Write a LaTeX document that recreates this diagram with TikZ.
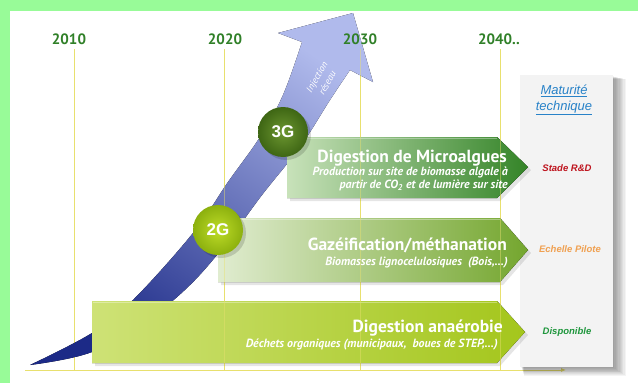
\documentclass[tikz,border=0pt]{standalone}
\usepackage{fontspec}
\setmainfont{PT Sans}
\newfontfamily\arialf{Liberation Sans}
\usetikzlibrary{arrows.meta}
\definecolor{bordergreen}{RGB}{152,251,152}
\definecolor{yeargreen}{RGB}{48,128,40}
\definecolor{tlyellow}{RGB}{232,224,110}
\definecolor{bluedark}{RGB}{28,42,135}
\definecolor{bluemid}{RGB}{125,138,215}
\definecolor{bluelight}{RGB}{176,186,236}
\definecolor{topL}{RGB}{200,226,186}
\definecolor{topM}{RGB}{88,158,68}
\definecolor{topR}{RGB}{52,132,40}
\definecolor{midL}{RGB}{224,236,208}
\definecolor{midM}{RGB}{160,196,104}
\definecolor{midR}{RGB}{116,166,46}
\definecolor{botL}{RGB}{206,226,118}
\definecolor{botR}{RGB}{164,198,28}
\definecolor{g3in}{RGB}{108,150,48}
\definecolor{g3out}{RGB}{62,102,20}
\definecolor{g2in}{RGB}{190,220,40}
\definecolor{g2out}{RGB}{140,176,14}
\definecolor{panelgray}{RGB}{243,243,243}
\definecolor{matblue}{RGB}{40,130,200}
\definecolor{rdred}{RGB}{190,20,30}
\definecolor{pilorange}{RGB}{240,160,80}
\definecolor{dispgreen}{RGB}{30,150,60}
\tikzset{
  yearlbl/.style={font=\bfseries\fontsize{15}{18}\selectfont, text=yeargreen, inner sep=0pt, anchor=base},
  tline/.style={draw=tlyellow, line width=0.8pt},
  bigtitle/.style={font=\bfseries\fontsize{17.5}{20}\selectfont, text=white, inner sep=0pt, anchor=base east},
  subtitle/.style={font=\bfseries\itshape\fontsize{11.9}{13}\selectfont, text=white, inner sep=0pt, anchor=base east},
  gen/.style={circle, minimum size=50pt, inner sep=0pt, text=white, font=\arialf\bfseries\fontsize{17}{20}\selectfont},
  matlbl/.style={font=\arialf\bfseries\itshape\fontsize{9.5}{11}\selectfont, inner sep=0pt},
  arrowshadow/.style={fill=black, opacity=0.10},
  highlight/.style={draw=white, opacity=0.35, line width=1.5pt}
}
\begin{document}
\begin{tikzpicture}[x=1pt,y=-1pt]
\useasboundingbox (0,0) rectangle (638,383);
\fill[white] (0,0) rectangle (638,383);
\fill[bordergreen] (0,0) rectangle (638,11);
\fill[bordergreen] (0,0) rectangle (10,383);

% axis
\coordinate (axL) at (25,370);
\coordinate (axR) at (566,370);
\coordinate (t10) at (74,49);
\coordinate (t20) at (224,49);
\coordinate (t30) at (360,49);
\coordinate (t40) at (500,49);
\draw[tline, -{Latex[length=5pt,width=4pt]}] (axL) -- (axR);
\foreach \t in {t10,t20,t30,t40} \draw[tline] (\t) -- (\t |- axL);

% panel
\foreach \d in {1,...,10}
  \fill[black, opacity=0.045] (521+0.3*\d,76+0.3*\d) rectangle (613+1.3*\d,367+0.9*\d);
\fill[panelgray] (520,75) rectangle (613,367);
\node[font=\arialf\itshape\fontsize{13}{16}\selectfont, text=matblue, align=center, inner sep=0pt] (mat) at (564,100) {\underline{Maturité}\\\underline{technique}};
\node[matlbl, text=rdred] (rd) at (567,168) {Stade R\&D};
\node[matlbl, text=pilorange] (pil) at (570,249) {Echelle Pilote};
\node[matlbl, text=dispgreen] (disp) at (567,332) {Disponible};

% blue curved arrow
\fill[bottom color=bluedark, middle color=bluemid, top color=bluelight, shading angle=-35]
  plot[smooth, tension=0.6] coordinates {(30,365) (92,333) (133,300) (193,233) (228,182) (260,137) (283,95) (302,42)}
  -- (278,33) -- (353,13) -- (373,82) --
  plot[smooth, tension=0.6] coordinates {(350,70) (330,100) (300,147) (262,195) (225,245) (190,285) (150,318) (92,352) (30,365)}
  -- cycle;
\node[rotate=60, font=\itshape\fontsize{9.5}{12}\selectfont, text=white, align=center, inner sep=0pt] (inj) at (322,80) {Injection\\réseau};

% arrows: shadows
\fill[arrowshadow] (95,304) -- (500,304) -- (528,335) -- (500,366) -- (95,366) -- cycle;
\fill[arrowshadow] (221,221) -- (503,221) -- (531,253) -- (503,285) -- (221,285) -- cycle;
\fill[arrowshadow] (290,140) -- (500,140) -- (531,170) -- (500,201) -- (290,201) -- cycle;

% bottom arrow
\fill[left color=botL, right color=botR] (92,301) -- (497,301) -- (525,332) -- (497,363) -- (92,363) -- cycle;
\draw[highlight] (93,302.5) -- (497,302.5);
% middle arrow
\fill[left color=midL, middle color=midM, right color=midR] (218,218) -- (500,218) -- (528,250) -- (500,282) -- (218,282) -- cycle;
\draw[highlight] (219,219.5) -- (500,219.5);
% top arrow
\fill[left color=topL, middle color=topM, right color=topR] (287,137) -- (497,137) -- (528,167) -- (497,198) -- (287,198) -- cycle;
\draw[highlight] (288,138.5) -- (497,138.5);

% timeline lines over arrows (faint)
\foreach \t in {t20,t30,t40} \draw[tline, opacity=0.45] (\t) -- (\t |- axL);

% texts
\node[bigtitle] (dm) at (507,162) {Digestion de Microalgues};
\node[subtitle] (dm1) at (508,175.5) {Production sur site de biomasse algale à};
\node[subtitle] (dm2) at (508,188.5) {partir de CO\textsubscript{2} et de lumière sur site};
\node[bigtitle] (gm) at (507,250) {Gazéification/méthanation};
\node[subtitle] (gm1) at (508,265) {Biomasses lignocelulosiques~ (Bois,…)};
\node[bigtitle] (da) at (503,332) {Digestion anaérobie};
\node[subtitle] (da1) at (498,347) {Déchets organiques (municipaux,~ boues de STEP,…)};

% generation circles
\fill[black, opacity=0.15] (286,135) circle (25);
\fill[black, opacity=0.15] (221,233) circle (25);
\node[gen, inner color=g3in, outer color=g3out] (g3) at (283,132) {3G};
\node[gen, inner color=g2in, outer color=g2out] (g2) at (218,230) {2G};

% years (on top)
\node[yearlbl] (y10) at (69,44) {2010};
\node[yearlbl] (y20) at (225,44) {2020};
\node[yearlbl] (y30) at (360,44) {2030};
\node[yearlbl, anchor=base west] (y40) at (478,44) {2040..};
\end{tikzpicture}
\end{document}
